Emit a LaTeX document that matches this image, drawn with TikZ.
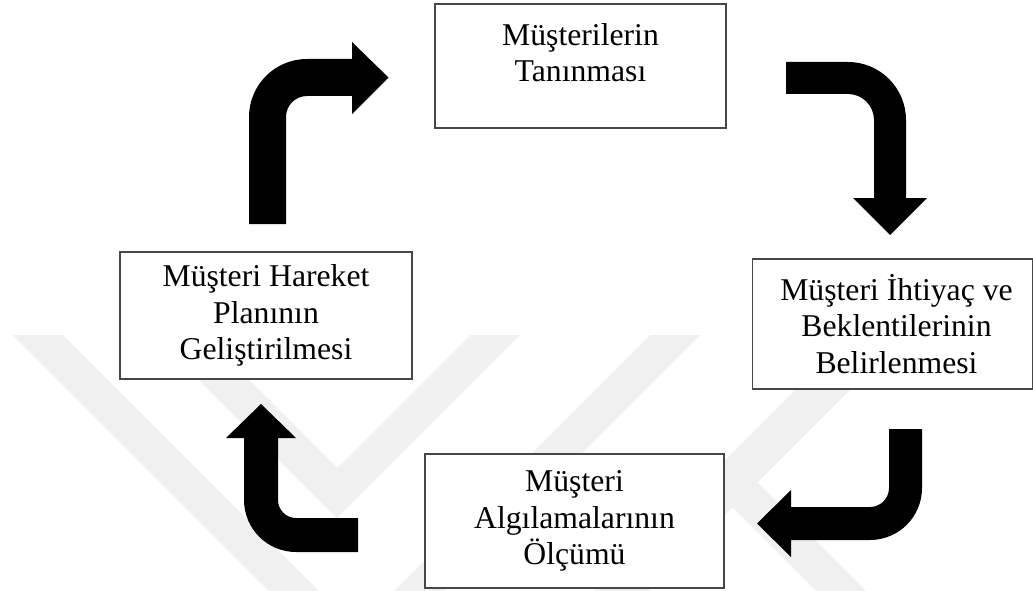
\documentclass[tikz,border=0pt]{standalone}
\usepackage{fontspec}
\setmainfont{Liberation Serif}
\begin{document}
\begin{tikzpicture}[x=1pt,y=-1pt,
  box/.style={draw=black!72, line width=1.6pt, fill=white, align=center,
    inner sep=0pt, font=\fontsize{31.7}{36.5}\selectfont},
  bent/.style={fill=black},
  wm/.style={fill=black!6}]
\useasboundingbox (0,0) rectangle (1033,591);

% faint background watermark
\begin{scope}
\clip (0,335) rectangle (1033,591);
\fill[wm] (13,335) -- (63,335) -- (319,591) -- (269,591) -- cycle;
\fill[wm] (154,335) -- (204,335) -- (337,468) -- (470,335) -- (520,335) -- (337,518) -- cycle;
\fill[wm] (650,335) -- (700,335) -- (444,591) -- (394,591) -- cycle;
\fill[wm] (850,335) -- (905,335) -- (649,591) -- (594,591) -- cycle;
\fill[wm] (742,467) -- (767,492) -- (866,591) -- (816,591) -- (717,492) -- cycle;
\end{scope}

% boxes
\node[box, minimum width=291, minimum height=124] (top) at (580.5,66)
  {Müşterilerin\\Tanınması\\[-10pt]\mbox{}};
\node[box, minimum width=280, minimum height=130] (right) at (892.5,324)
  {\hspace*{8pt}Müşteri İhtiyaç ve\\\hspace*{8pt}Beklentilerinin\\\hspace*{8pt}Belirlenmesi};
\node[box, minimum width=299, minimum height=134] (bottom) at (574.5,521)
  {Müşteri\\Algılamalarının\\Ölçümü};
\node[box, minimum width=292, minimum height=127] (left) at (266,315.5)
  {Müşteri Hareket\\Planının\\Geliştirilmesi};

% bent arrow: left box -> top box
\fill[bent] (249,224) -- (249,117) arc[start angle=180, end angle=270, radius=58]
  -- (352,59) -- (352,42) -- (388.5,77.5) -- (352,114) -- (352,96) -- (307,96)
  arc[start angle=270, end angle=180, radius=21] -- (286,224) -- cycle;

% bent arrow: top box -> right box
\fill[bent] (786,62) -- (848,62) arc[start angle=270, end angle=360, radius=58]
  -- (906,198) -- (927,198) -- (890,235) -- (853,198) -- (874,198) -- (874,120)
  arc[start angle=360, end angle=270, radius=26] -- (786,94) -- cycle;

% bent arrow: right box -> bottom box
\fill[bent] (889,429) -- (922,429) -- (922,488) arc[start angle=0, end angle=90, radius=52]
  -- (791,540) -- (791,557) -- (757,523.5) -- (791,490) -- (791,507) -- (870,507)
  arc[start angle=90, end angle=0, radius=19] -- cycle;

% bent arrow: bottom box -> left box
\fill[bent] (358,552) -- (296,552) arc[start angle=90, end angle=180, radius=52]
  -- (244,438) -- (226,438) -- (261,404) -- (296,438) -- (278,438) -- (278,500)
  arc[start angle=180, end angle=90, radius=18] -- (358,518) -- cycle;
\end{tikzpicture}
\end{document}
